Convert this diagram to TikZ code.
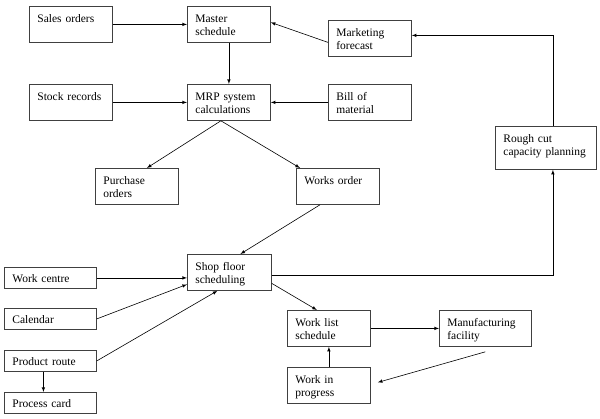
\documentclass[tikz,border=0pt]{standalone}
\usepackage{fontspec}
\setmainfont{Liberation Serif}
\begin{document}
\begin{tikzpicture}[x=1pt,y=-1pt,>=latex,font=\fontsize{11.5}{13}\selectfont,
box/.style={draw=black!75,line width=0.8pt,anchor=north west,align=left,inner xsep=8pt,inner ysep=6pt,text height=10pt,text depth=14pt,text width=67pt},
low/.style={box,inner ysep=5pt,text depth=1pt,text width=76pt},
link/.style={->,line width=0.6pt}]
\useasboundingbox(0,0)rectangle(600,419);
%
\node[box](sales)at(29,6){Sales orders};
\node[box](master)at(187,6){Master\\schedule};
\node[box](mkt)at(328,20){Marketing\\forecast};
\node[box](stock)at(29,84){Stock records};
\node[box](mrp)at(187,84){MRP system\\calculations};
\node[box](bom)at(328,84){Bill of\\material};
\node[box,text depth=21pt,text width=85pt](rough)at(495,126){Rough cut\\capacity planning};
\node[box](purch)at(95,168){Purchase\\orders};
\node[box](works)at(296,168){Works order};
\node[box,text width=68pt](shop)at(187,254){Shop floor\\scheduling};
\node[low](wc)at(4,267){Work centre};
\node[low](cal)at(4,308){Calendar};
\node[low](prod)at(4,350){Product route};
\node[low](card)at(4,392){Process card};
\node[box](wl)at(287,310){Work list\\schedule};
\node[box,text width=76pt](mf)at(439,310){Manufacturing\\facility};
\node[box](wip)at(287,367){Work in\\progress};
%
\draw[link](sales)--(master);
\draw[link](master)--(mrp);
\draw[link](stock)--(mrp);
\draw[link](bom)--(mrp);
\draw[link]([yshift=-4pt]mkt.west)--([yshift=2pt]master.east);
\draw[link]([xshift=7pt]rough.north)|-([yshift=3pt]mkt.east);
\draw[link]([xshift=-8pt]mrp.south)--([xshift=10pt]purch.north);
\draw[link]([xshift=-8pt]mrp.south)--([xshift=4pt]works.north west);
\draw[link]([xshift=24pt]works.south west)--([xshift=11pt]shop.north);
\draw[link](wc.east)--(wc.east-|shop.west);
\draw[link](cal.east)--([yshift=-12pt]shop.west);
\draw[link](prod.east)--([xshift=-12pt]shop.south);
\draw[link]([xshift=-7pt]prod.south)--([xshift=-7pt]prod.south|-card.north);
\draw[link]([yshift=-3pt]shop.east)-|([xshift=7pt]rough.south);
\draw[link]([yshift=-11pt]shop.east)--([xshift=-12pt]wl.north);
\draw[link](wl)--(mf);
\draw[link]([yshift=-5pt]mf.south)--([xshift=7pt,yshift=3pt]wip.east);
\draw[link](wip)--(wl);
\end{tikzpicture}
\end{document}
